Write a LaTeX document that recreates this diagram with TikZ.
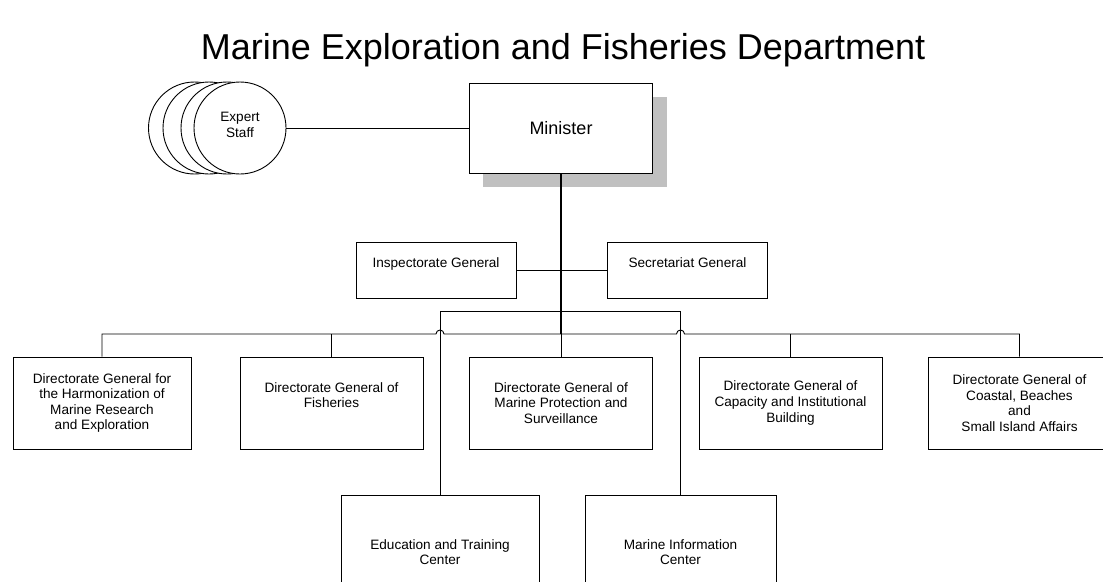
\documentclass[tikz,border=0pt]{standalone}
\usepackage{fontspec}
\setmainfont{Liberation Sans}
\usetikzlibrary{backgrounds}
\definecolor{shadowgray}{HTML}{C0C0C0}

\begin{document}
\begin{tikzpicture}[x=1pt,y=-1pt,line width=.9pt,every node/.style={font=\fontsize{13.6}{15.6}\selectfont,align=center},
  box/.style={draw,fill=white,minimum width=183pt,minimum height=92pt,inner sep=0pt},
  staff/.style={draw,fill=white,circle,minimum size=92pt,inner sep=0pt},
  main/.style={line width=2pt}]
\useasboundingbox (0,0) rectangle (1103,581);
\node (title) at (563,50) {\fontsize{36}{42}\selectfont Marine Exploration and Fisheries Department};
% expert staff stack
\foreach \x/\n in {194.5/e1,209/e2,227/e3} \node[staff] (\n) at (\x,128) {};
\node[staff] (staff) at (240,128) {Expert\\Staff\\[-9pt]};
\node[box,minimum height=90pt,font=\fontsize{18}{21}\selectfont] (min) at (561,128) {Minister};
\begin{scope}[on background layer]
\fill[shadowgray] ([shift={(14,14)}]min.north west) rectangle ([shift={(14,14)}]min.south east);
\end{scope}
\node[box,minimum width=160pt,minimum height=56pt] (insp) at (436,270) {Inspectorate General\\~};
\node[box,minimum width=160pt,minimum height=56pt] (secr) at (687.5,270) {Secretariat General\\~};
% directorates
\node[box,minimum width=178pt] (d1) at (102,403) {Directorate General for\\the Harmonization of\\Marine Research\\and Exploration};
\node[box] (d2) at (331.5,403) {Directorate General of\\Fisheries\\~};
\node[box] (d3) at (561,403) {Directorate General of\\Marine Protection and\\Surveillance};
\node[box] (d4) at (790.5,403) {Directorate General of\\Capacity and Institutional\\Building};
\node[box] (d5) at (1019.5,403) {Directorate General of\\Coastal, Beaches\\and\\Small Island Affairs};
\node[box,minimum width=198pt,minimum height=114pt] (edu) at (440,552) {Education and Training\\Center};
\node[box,minimum width=191pt,minimum height=114pt] (info) at (680.5,552) {Marine Information\\Center};
\coordinate (bus) at (561,334);\coordinate (brk) at (561,311.5);
% connectors
\draw (staff) -- (min);
\draw[main] (min) -- (bus);\draw (bus) -- (d3);
\draw (insp) -- (secr);
\draw (edu.north) |- (brk) -| (info.north);
\draw (d1.north) |- ([xshift=-4pt]edu.north |- bus) arc[start angle=180,end angle=0,radius=4pt]
  -- ([xshift=-4pt]info.north |- bus) arc[start angle=180,end angle=0,radius=4pt] -| (d5.north);
\draw (d2.north) -- (d2.north |- bus);\draw (d4.north) -- (d4.north |- bus);
\end{tikzpicture}
\end{document}
